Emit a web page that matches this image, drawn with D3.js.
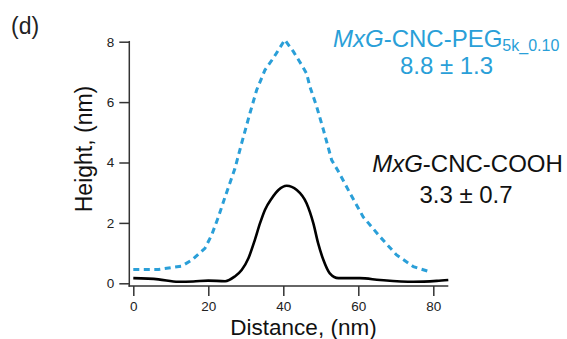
<!DOCTYPE html>
<html><head><meta charset="utf-8">
<script src="https://cdn.jsdelivr.net/npm/d3@7"></script>
<style>
html,body{margin:0;padding:0;background:#fff;}
svg{display:block;font-family:"Liberation Sans",Arial,sans-serif;}
</style></head>
<body>
<svg id="c" width="567" height="339"></svg>
<script>
// Data (distance nm, height nm)
const pegDistance = [0, 6.7, 12.9, 15.6, 19.1, 20.9, 22.7, 24.5, 27.1, 28.9, 31.1, 32.9, 35.1, 37.3, 40.4, 42.7, 44.9, 46.2, 47.1, 48.9, 50.7, 52.9, 54.7, 57.8, 61.3, 65.8, 70.2, 74.7, 79.1];
const pegHeight   = [0.46, 0.46, 0.57, 0.77, 1.16, 1.6, 2.2, 2.87, 3.8, 4.64, 5.63, 6.4, 7.06, 7.45, 8.06, 7.67, 7.23, 6.95, 6.51, 5.85, 5.08, 4.08, 3.7, 2.98, 2.2, 1.54, 0.94, 0.55, 0.38];
const coohDistance = [0, 6.7, 12, 16, 20, 24.5, 27, 28.9, 30.7, 32.4, 33.8, 35.1, 36.9, 38.7, 40.9, 43.6, 46.2, 48, 49.3, 50.7, 52.4, 54.7, 60.4, 65.8, 74.7, 80.9, 84];
const coohHeight   = [0.17, 0.13, 0.05, 0.06, 0.09, 0.07, 0.22, 0.44, 0.83, 1.43, 1.99, 2.43, 2.81, 3.09, 3.23, 3.09, 2.65, 1.99, 1.32, 0.77, 0.33, 0.17, 0.17, 0.11, 0.05, 0.08, 0.11];
const xTicks = [0, 20, 40, 60, 80];
const yTicks = [0, 2, 4, 6, 8];
const panelLabel = "(d)";
const xTitle = "Distance, (nm)";
const yTitle = "Height, (nm)";

const BLUE = "#2a9fd8";
const svg = d3.select("#c");
const x = d3.scaleLinear().domain([0, 84]).range([133.3, 448.3]);
const y = d3.scaleLinear().domain([0, 8]).range([283.3, 41.7]);
const axisColor = "#333";

// X axis
const gx = svg.append("g").attr("transform", "translate(0,286)")
  .call(d3.axisBottom(x).tickValues(xTicks).tickSize(10).tickSizeOuter(0).tickPadding(5.5));
gx.select(".domain").remove();
gx.append("line").attr("x1", 128.5).attr("x2", 448.3).attr("y1", 0).attr("y2", 0)
  .attr("stroke", axisColor).attr("stroke-width", 1.5);
gx.selectAll(".tick line").attr("stroke", axisColor).attr("stroke-width", 1.5);
gx.selectAll(".tick text").attr("fill", "#222").attr("font-size", 13.5)
  .attr("font-family", "Liberation Sans, Arial, sans-serif");

// Y axis
const gy = svg.append("g").attr("transform", "translate(129.3,0)")
  .call(d3.axisLeft(y).tickValues(yTicks).tickSize(10).tickSizeOuter(0).tickPadding(5));
gy.select(".domain").remove();
gy.append("line").attr("x1", 0).attr("x2", 0).attr("y1", y(8) - 0.75).attr("y2", 286.75)
  .attr("stroke", axisColor).attr("stroke-width", 1.5);
gy.selectAll(".tick line").attr("stroke", axisColor).attr("stroke-width", 1.5);
gy.selectAll(".tick text").attr("fill", "#222").attr("font-size", 13.5)
  .attr("font-family", "Liberation Sans, Arial, sans-serif");

// Lines
const line = d3.line().x(d => x(d[0])).y(d => y(d[1]));
svg.append("path").datum(pegDistance.map((d, i) => [d, pegHeight[i]]))
  .attr("d", line).attr("fill", "none").attr("stroke", BLUE)
  .attr("stroke-width", 3).attr("stroke-dasharray", "6,4.5");
svg.append("path").datum(coohDistance.map((d, i) => [d, coohHeight[i]]))
  .attr("d", line.curve(d3.curveMonotoneX)).attr("fill", "none").attr("stroke", "#000")
  .attr("stroke-width", 2.6).attr("stroke-linejoin", "round");

// Titles
svg.append("text").attr("x", 11).attr("y", 34).attr("font-size", 23).attr("fill", "#222").text(panelLabel);
svg.append("text").attr("x", 303.5).attr("y", 335).attr("text-anchor", "middle")
  .attr("font-size", 22.5).attr("fill", "#111").text(xTitle);
svg.append("text").attr("transform", "translate(92,149) rotate(-90)").attr("text-anchor", "middle")
  .attr("font-size", 23).attr("fill", "#111").text(yTitle);

// Annotations
const t1 = svg.append("text").attr("x", 333).attr("y", 47).attr("font-size", 24).attr("fill", BLUE);
t1.append("tspan").attr("font-style", "italic").text("MxG");
t1.append("tspan").text("-CNC-PEG");
t1.append("tspan").attr("font-size", 16).attr("dy", 4).text("5k_0.10");
svg.append("text").attr("x", 446.5).attr("y", 74).attr("text-anchor", "middle")
  .attr("font-size", 24).attr("fill", BLUE).text("8.8 ± 1.3");

const t2 = svg.append("text").attr("x", 467.5).attr("y", 172).attr("text-anchor", "middle")
  .attr("font-size", 24).attr("fill", "#111");
t2.append("tspan").attr("font-style", "italic").text("MxG");
t2.append("tspan").text("-CNC-COOH");
svg.append("text").attr("x", 466).attr("y", 202.5).attr("text-anchor", "middle")
  .attr("font-size", 24).attr("fill", "#111").text("3.3 ± 0.7");
</script>
</body></html>
